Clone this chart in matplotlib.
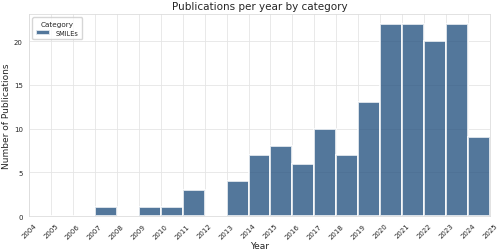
import matplotlib
matplotlib.use("Agg")
import matplotlib.pyplot as plt
import seaborn as sns

years = list(range(2004, 2025))
counts = [0, 0, 0, 1, 0, 1, 1, 3, 0, 4, 7, 8, 6, 10, 7, 13, 22, 22, 20, 22, 9]
tick_years = list(range(2004, 2026))

sns.set_style("whitegrid")
plt.rcParams['font.family'] = ['DejaVu Sans']

fig, ax = plt.subplots(figsize=(5, 2.51), dpi=100)
ax.bar(years, counts, width=1, align='edge', color='#285582', alpha=0.8,
       edgecolor='white', linewidth=1.4, label='SMILEs')

ax.set_xlim(2004, 2025)
ax.set_ylim(0, 23.1)
ax.set_xticks(tick_years)
ax.set_xticklabels([str(y) for y in tick_years], rotation=45, fontsize=5)
ax.set_yticks([0, 5, 10, 15, 20])
ax.tick_params(axis='y', labelsize=5, pad=1)
ax.tick_params(axis='x', pad=1)
ax.set_xlabel("Year", fontsize=6.5, labelpad=1)
ax.set_ylabel("Number of Publications", fontsize=6.5, labelpad=2)
ax.set_title("Publications per year by category", fontsize=7.5, pad=4)
for s in ax.spines.values():
    s.set_color('#dddddd')
    s.set_linewidth(0.6)
ax.grid(color='#e5e5e5', linewidth=0.6)

leg = ax.legend(title="Category", loc='upper left', fontsize=4.8, title_fontsize=5.2,
                frameon=True, handlelength=2.2, borderpad=0.5)

plt.subplots_adjust(left=0.058, right=0.98, top=0.94, bottom=0.135)
fig.savefig("out.png", dpi=100)
